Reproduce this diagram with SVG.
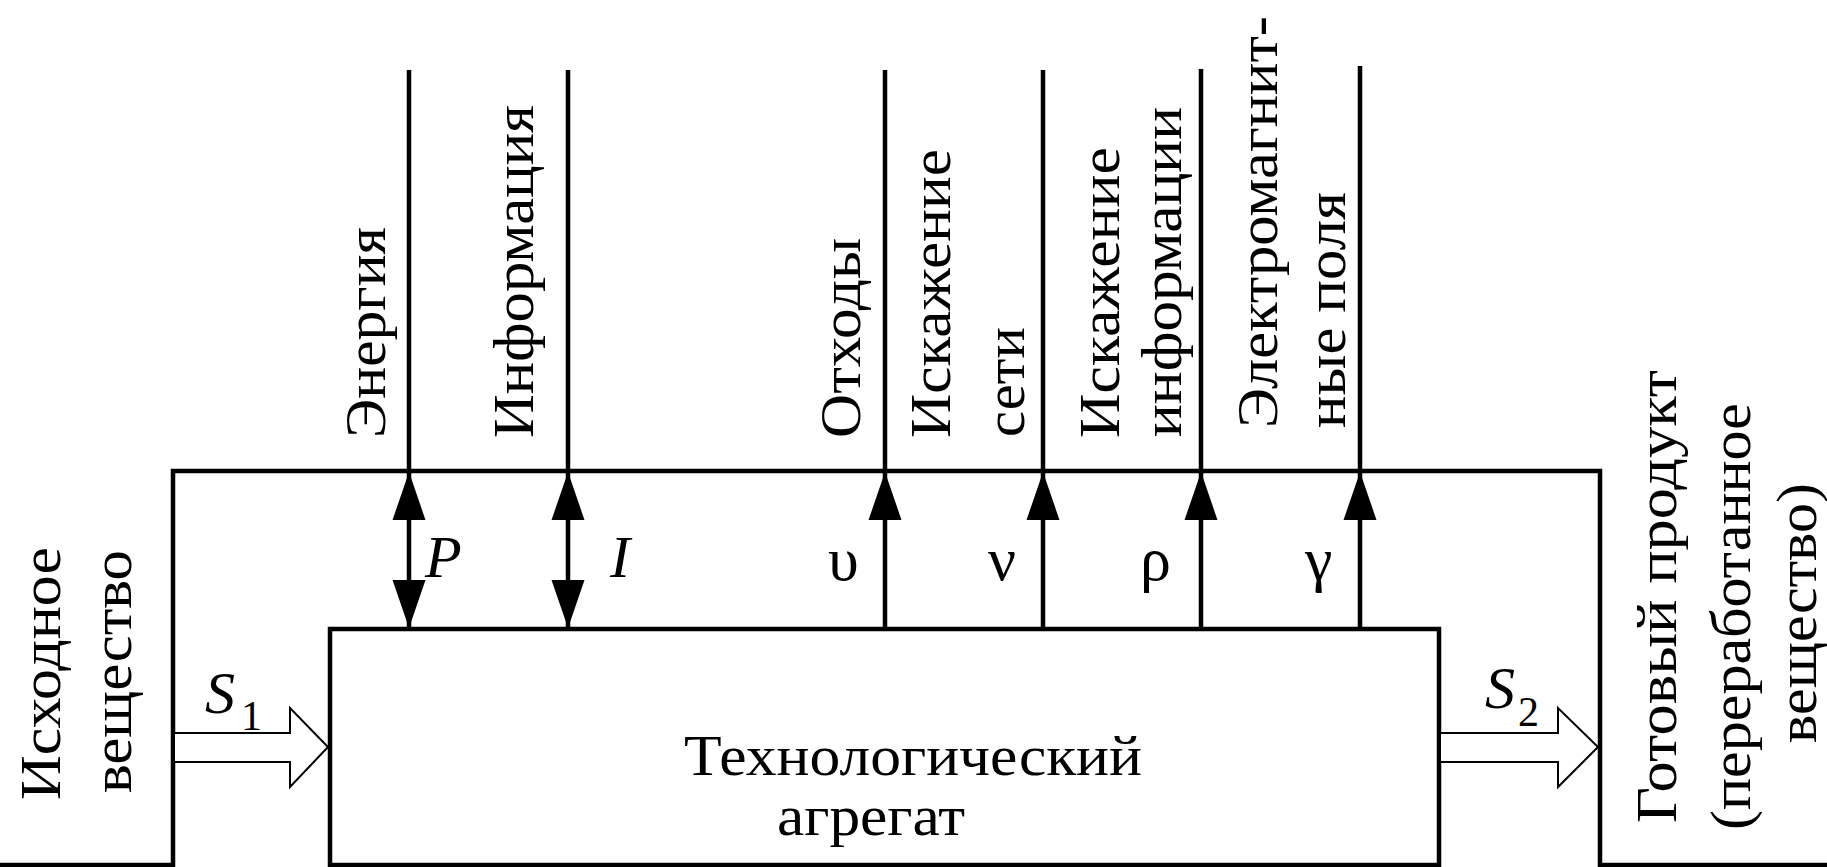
<svg xmlns="http://www.w3.org/2000/svg" width="1827" height="867" viewBox="0 0 1827 867">
<style>
text{font-family:"Liberation Serif","DejaVu Serif","Times New Roman",serif;font-size:60px;fill:#000}
.cy{font-size:58px}
.it{font-style:italic}
.sub{font-size:42px}
.gr{font-size:62px}
.ln{stroke:#000;stroke-width:4.5;fill:none}
.open{stroke:#000;stroke-width:2;fill:#fff;stroke-linejoin:miter}
.head{fill:#000}
</style>
<rect width="1827" height="867" fill="#fff"/>
<g id="frame">
<path class="ln" d="M0,865 H173 V471 H1600 V865 H1827"/>
</g>
<g id="aggregate">
<rect class="ln" x="330" y="629" width="1109" height="236"/>
<text class="cy" x="684" y="775" textLength="458" lengthAdjust="spacingAndGlyphs">Технологический</text>
<text class="cy" x="777" y="835" textLength="188" lengthAdjust="spacingAndGlyphs">агрегат</text>
</g>
<g id="connectors">
<line class="ln" x1="409" y1="70" x2="409" y2="629"/>
<line class="ln" x1="568" y1="70" x2="568" y2="629"/>
<line class="ln" x1="885" y1="70" x2="885" y2="629"/>
<line class="ln" x1="1043" y1="70" x2="1043" y2="629"/>
<line class="ln" x1="1201" y1="69" x2="1201" y2="629"/>
<line class="ln" x1="1360" y1="66" x2="1360" y2="629"/>
<path class="head" d="M409,472 L425.5,520 L392.5,520 Z"/>
<path class="head" d="M409,628 L425.5,580 L392.5,580 Z"/>
<path class="head" d="M568,472 L584.5,520 L551.5,520 Z"/>
<path class="head" d="M568,628 L584.5,580 L551.5,580 Z"/>
<path class="head" d="M885,472 L901.5,520 L868.5,520 Z"/>
<path class="head" d="M1043,472 L1059.5,520 L1026.5,520 Z"/>
<path class="head" d="M1201,472 L1217.5,520 L1184.5,520 Z"/>
<path class="head" d="M1360,472 L1376.5,520 L1343.5,520 Z"/>
<path class="open" d="M175,733 H290 V708 L328,747 L290,787 V762 H175"/>
<path class="open" d="M1441,733 H1558 V708 L1598,747 L1558,787 V762 H1441"/>
</g>
<g id="labels-flow">
<text class="it" x="425" y="577">P</text>
<text class="it" x="610" y="577">I</text>
<text class="gr" x="828" y="580">υ</text>
<text class="gr" x="988" y="580">ν</text>
<text class="gr" x="1140" y="580">ρ</text>
<text class="gr" x="1305" y="580">γ</text>
<text class="it" x="205" y="713">S</text>
<text class="sub" x="241" y="730">1</text>
<text class="it" x="1485" y="708">S</text>
<text class="sub" x="1518" y="726">2</text>
</g>
<g id="input">
<text class="cy" transform="translate(60,800) rotate(-90)" textLength="253" lengthAdjust="spacingAndGlyphs">Исходное</text>
<text class="cy" transform="translate(131,793) rotate(-90)" textLength="243" lengthAdjust="spacingAndGlyphs">вещество</text>
</g>
<g id="output">
<text class="cy" transform="translate(1676,823) rotate(-90)" textLength="453" lengthAdjust="spacingAndGlyphs">Готовый продукт</text>
<text class="cy" transform="translate(1750,830) rotate(-90)" textLength="427" lengthAdjust="spacingAndGlyphs">(переработанное</text>
<text class="cy" transform="translate(1816,743) rotate(-90)" textLength="260" lengthAdjust="spacingAndGlyphs">вещество)</text>
</g>
<g id="top-labels">
<text class="cy" transform="translate(385,438) rotate(-90)" textLength="211" lengthAdjust="spacingAndGlyphs">Энергия</text>
<text class="cy" transform="translate(533,438) rotate(-90)" textLength="333" lengthAdjust="spacingAndGlyphs">Информация</text>
<text class="cy" transform="translate(860,438) rotate(-90)" textLength="200" lengthAdjust="spacingAndGlyphs">Отходы</text>
<text class="cy" transform="translate(950,438) rotate(-90)" textLength="289" lengthAdjust="spacingAndGlyphs">Искажение</text>
<text class="cy" transform="translate(1024,437) rotate(-90)" textLength="110" lengthAdjust="spacingAndGlyphs">сети</text>
<text class="cy" transform="translate(1119,438) rotate(-90)" textLength="291" lengthAdjust="spacingAndGlyphs">Искажение</text>
<text class="cy" transform="translate(1181,437) rotate(-90)" textLength="330" lengthAdjust="spacingAndGlyphs">информации</text>
<text class="cy" transform="translate(1277,428) rotate(-90)" textLength="412" lengthAdjust="spacingAndGlyphs">Электромагнит-</text>
<text class="cy" transform="translate(1345,428) rotate(-90)" textLength="236" lengthAdjust="spacingAndGlyphs">ные поля</text>
</g>
</svg>
